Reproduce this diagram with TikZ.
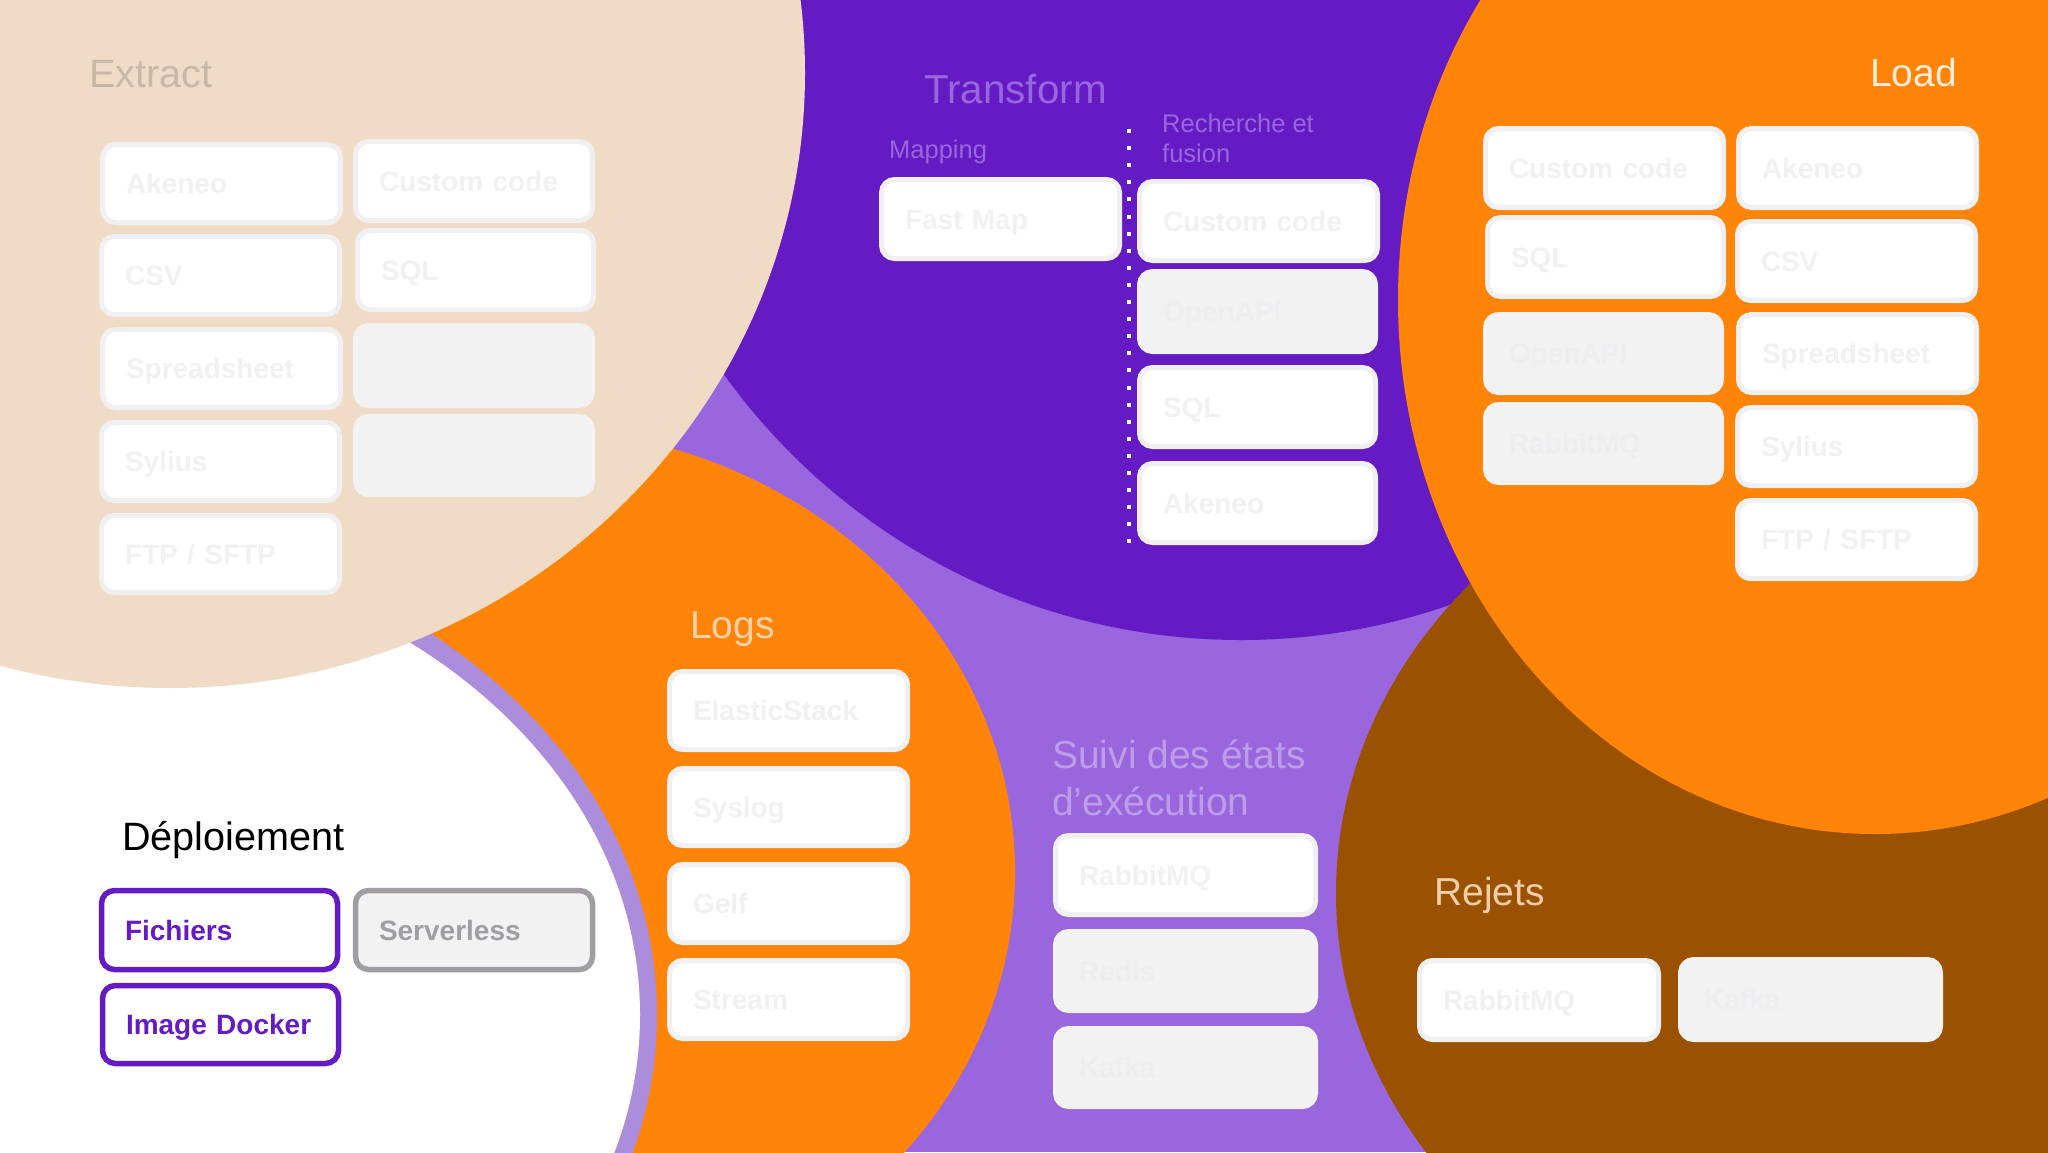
\documentclass[tikz,border=0pt]{standalone}
\usepackage{fontspec}
\setmainfont{Liberation Sans}
\definecolor{bgpurple}{HTML}{9966DD}
\definecolor{darkpurple}{HTML}{651BC4}
\definecolor{ringpurple}{HTML}{AB8DDC}
\definecolor{brandorange}{HTML}{FF8408}
\definecolor{beige}{HTML}{F0DCC6}
\definecolor{brownish}{HTML}{9A5200}
\definecolor{boxedge}{HTML}{F0F0F2}
\definecolor{boxgrey}{HTML}{F2F2F3}
\definecolor{faint}{HTML}{F1F1F3}
\definecolor{fainter}{HTML}{EEEEF0}
\definecolor{midgrey}{HTML}{A09EA2}
\tikzset{
  basebox/.style={rectangle,rounded corners=13pt,line width=5pt,align=left,anchor=center,
    text height=20.5pt,text depth=0pt,inner ysep=0pt,inner xsep=23.5pt,
    font=\fontsize{28}{28}\selectfont\bfseries},
  whitebox/.style={basebox,draw=boxedge,fill=white,text=faint},
  greybox/.style={basebox,draw=boxgrey,fill=boxgrey,text=fainter},
  activebox/.style={basebox,draw=darkpurple,fill=white,text=darkpurple,line width=5.5pt},
  offbox/.style={basebox,draw=midgrey,fill=boxgrey,text=midgrey,line width=5.5pt},
  bigtitle/.style={anchor=base west,inner sep=0pt,align=left,font=\fontsize{39}{39}\selectfont},
  smalltitle/.style={anchor=base west,inner sep=0pt,align=left,font=\fontsize{25.5}{30}\selectfont}
}
% style, name, x1, y1, x2, y2, text
\newcommand\bx[7]{\node[#1,minimum width={(#5-#3-5)*1pt},minimum height={(#6-#4-5)*1pt},
  text width={(#5-#3-52)*1pt}] (#2) at ({(#3+#5)/2},{(#4+#6)/2}) {#7};}
\begin{document}
\begin{tikzpicture}[x=1pt,y=-1pt]
\useasboundingbox (0,0) rectangle (2048,1152);
\clip (0,0) rectangle (2048,1152);
\fill[bgpurple] (0,0) rectangle (2048,1152);
% blobs
\fill[darkpurple] (1241,4) circle [radius=636pt];
\fill[brandorange] (520,872) ellipse [x radius=495pt,y radius=445pt];
\fill[ringpurple] (50,1015) ellipse [x radius=607pt,y radius=490pt];
\fill[white] (50,1015) ellipse [x radius=590pt,y radius=470pt];
\fill[brownish] (1900,893) ellipse [x radius=564pt,y radius=478pt];
\fill[brandorange] (1875,300) ellipse [x radius=477pt,y radius=534pt];
\fill[beige] (170,73) ellipse [x radius=635pt,y radius=615pt];
% Extract
\node[bigtitle,text=beige!82!black!95,font=\fontsize{39.5}{39.5}\selectfont] (extract) at (89,87) {Extract};
\bx{whitebox}{ex1}{100}{142}{343}{225}{Akeneo}
\bx{whitebox}{ex2}{99}{234}{342}{317}{CSV}
\bx{whitebox}{ex3}{100}{327}{343}{410}{Spreadsheet}
\bx{whitebox}{ex4}{99}{420}{342}{503}{Sylius}
\bx{whitebox}{ex5}{99}{513}{342}{595}{FTP / SFTP}
\bx{whitebox}{ex6}{353}{139}{595}{223}{Custom code}
\bx{whitebox}{ex7}{355}{228}{596}{312}{SQL}
\bx{greybox}{ex8}{353}{323}{595}{408}{}
\bx{greybox}{ex9}{353}{414}{595}{497}{}
% Transform
\node[bigtitle,text=bgpurple,font=\fontsize{40.4}{40.4}\selectfont] (transform) at (924,103) {Transform};
\node[smalltitle,text=bgpurple] (mapping) at (889,158) {Mapping};
\node[smalltitle,text=bgpurple,anchor=north west] (recherche) at (1162,114) {Recherche et\\fusion};
\bx{whitebox}{tr1}{879}{177}{1122}{261}{Fast Map}
\bx{whitebox}{tr2}{1137}{179}{1380}{263}{Custom code}
\bx{greybox}{tr3}{1137}{269}{1378}{354}{OpenAPI}
\bx{whitebox}{tr4}{1137}{365}{1378}{449}{SQL}
\bx{whitebox}{tr5}{1137}{461}{1378}{545}{Akeneo}
\coordinate (dottop) at (1129,129);
\coordinate (dotbot) at (1129,544);
\draw[white,line width=4pt,dash pattern=on 4pt off 13.1pt] (dottop) -- (dotbot);
% Load
\node[bigtitle,text=white!85!brandorange] (load) at (1870,86) {Load};
\bx{whitebox}{lo1}{1483}{126}{1726}{210}{Custom code}
\bx{whitebox}{lo2}{1485}{215}{1726}{299}{SQL}
\bx{greybox}{lo3}{1483}{312}{1724}{395}{OpenAPI}
\bx{greybox}{lo4}{1483}{402}{1724}{485}{RabbitMQ}
\bx{whitebox}{lo5}{1736}{126}{1979}{210}{Akeneo}
\bx{whitebox}{lo6}{1735}{219}{1978}{303}{CSV}
\bx{whitebox}{lo7}{1736}{312}{1979}{395}{Spreadsheet}
\bx{whitebox}{lo8}{1735}{405}{1978}{488}{Sylius}
\bx{whitebox}{lo9}{1735}{498}{1978}{581}{FTP / SFTP}
% Logs
\node[bigtitle,text=white!60!brandorange!70!beige] (logs) at (690,638) {Logs};
\bx{whitebox}{lg1}{667}{669}{910}{752}{ElasticStack}
\bx{whitebox}{lg2}{667}{766}{910}{848}{Syslog}
\bx{whitebox}{lg3}{667}{862}{910}{945}{Gelf}
\bx{whitebox}{lg4}{667}{958}{910}{1041}{Stream}
% Suivi
\node[bigtitle,text=bgpurple!55!white!90!darkpurple,font=\fontsize{39}{47}\selectfont,anchor=north west] (suivi) at (1052,740) {Suivi des états\\d’exécution};
\bx{whitebox}{su1}{1053}{833}{1318}{917}{RabbitMQ}
\bx{greybox}{su2}{1053}{929}{1318}{1013}{Redis}
\bx{greybox}{su3}{1053}{1026}{1318}{1109}{Kafka}
% Rejets
\node[bigtitle,text=beige!85!brandorange] (rejets) at (1434,905) {Rejets};
\bx{whitebox}{re1}{1417}{958}{1661}{1042}{RabbitMQ}
\bx{greybox}{re2}{1678}{957}{1943}{1042}{Kafka}
% Deploiement
\node[bigtitle,text=black,font=\fontsize{39.6}{39.6}\selectfont] (deploiement) at (122,850) {Déploiement};
\bx{activebox}{de1}{99}{888}{340}{972}{Fichiers}
\bx{offbox}{de2}{353}{888}{595}{972}{Serverless}
\bx{activebox}{de3}{100}{983}{341}{1066}{Image Docker}
\end{tikzpicture}
\end{document}
